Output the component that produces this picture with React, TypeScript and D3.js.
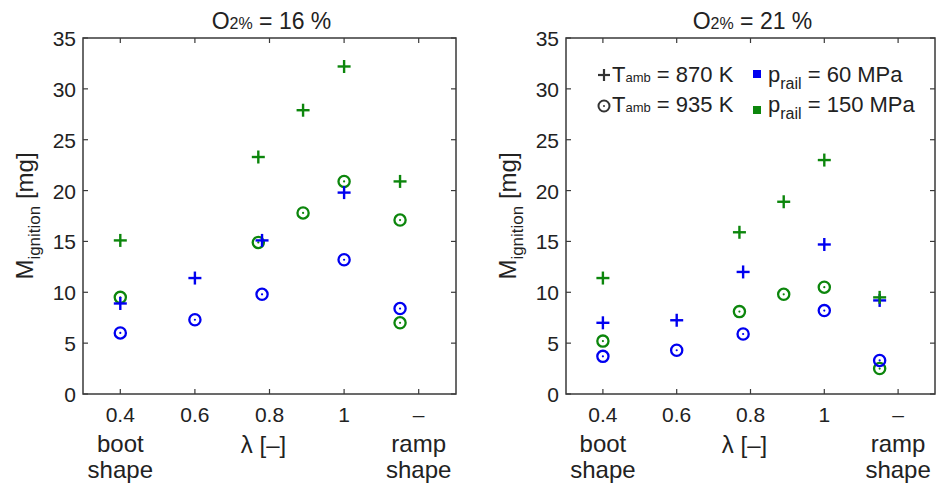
import React from "react";
import * as d3 from "d3";

// ---- Data ----
const xTicks = [0.4, 0.6, 0.8, 1.0, 1.2];
const xTickLabels = ["0.4", "0.6", "0.8", "1", "–"];
const yTicks = [0, 5, 10, 15, 20, 25, 30, 35];
const panelTitles = ["16 %", "21 %"];

// O2 = 16 %
const a_p60_T870_x = [0.4, 0.6, 0.78, 1.0];
const a_p60_T870_y = [8.9, 11.4, 15.1, 19.8];
const a_p60_T935_x = [0.4, 0.6, 0.78, 1.0, 1.15];
const a_p60_T935_y = [6.0, 7.3, 9.8, 13.2, 8.4];
const a_p150_T870_x = [0.4, 0.77, 0.89, 1.0, 1.15];
const a_p150_T870_y = [15.1, 23.3, 27.9, 32.2, 20.9];
const a_p150_T935_x = [0.4, 0.77, 0.89, 1.0, 1.15, 1.15];
const a_p150_T935_y = [9.5, 14.9, 17.8, 20.9, 17.1, 7.0];

// O2 = 21 %
const b_p60_T870_x = [0.4, 0.6, 0.78, 1.0, 1.15];
const b_p60_T870_y = [7.0, 7.25, 12.0, 14.7, 9.2];
const b_p60_T935_x = [0.4, 0.6, 0.78, 1.0, 1.15];
const b_p60_T935_y = [3.7, 4.3, 5.9, 8.2, 3.3];
const b_p150_T870_x = [0.4, 0.77, 0.89, 1.0, 1.15];
const b_p150_T870_y = [11.4, 15.9, 18.9, 23.0, 9.5];
const b_p150_T935_x = [0.4, 0.77, 0.89, 1.0, 1.15];
const b_p150_T935_y = [5.2, 8.1, 9.8, 10.5, 2.5];

const BLUE = "#0000f0";
const GREEN = "#0c860c";
const AXIS = "#3a3a3a";
const FONT = "Liberation Sans, Arial, Helvetica, sans-serif";

type Series = { x: number[]; y: number[]; color: string; marker: "plus" | "circle" };

const panelA: Series[] = [
  { x: a_p150_T935_x, y: a_p150_T935_y, color: GREEN, marker: "circle" },
  { x: a_p60_T935_x, y: a_p60_T935_y, color: BLUE, marker: "circle" },
  { x: a_p60_T870_x, y: a_p60_T870_y, color: BLUE, marker: "plus" },
  { x: a_p150_T870_x, y: a_p150_T870_y, color: GREEN, marker: "plus" },
];
const panelB: Series[] = [
  { x: b_p150_T935_x, y: b_p150_T935_y, color: GREEN, marker: "circle" },
  { x: b_p60_T935_x, y: b_p60_T935_y, color: BLUE, marker: "circle" },
  { x: b_p60_T870_x, y: b_p60_T870_y, color: BLUE, marker: "plus" },
  { x: b_p150_T870_x, y: b_p150_T870_y, color: GREEN, marker: "plus" },
];

function Marker({ cx, cy, color, marker }: { cx: number; cy: number; color: string; marker: string }) {
  if (marker === "plus") {
    const h = 6.5;
    return (
      <g stroke={color} strokeWidth={2.4}>
        <line x1={cx - h} x2={cx + h} y1={cy} y2={cy} />
        <line x1={cx} x2={cx} y1={cy - h} y2={cy + h} />
      </g>
    );
  }
  return (
    <g>
      <circle cx={cx} cy={cy} r={5.6} fill="none" stroke={color} strokeWidth={2.3} />
      <circle cx={cx} cy={cy} r={1.1} fill={color} />
    </g>
  );
}

function Panel({ x0, x1, title, series, legend }: { x0: number; x1: number; title: string; series: Series[]; legend?: boolean }) {
  const top = 38;
  const bottom = 394;
  const xs = d3.scaleLinear().domain([0.3, 1.3]).range([x0, x1]);
  const ys = d3.scaleLinear().domain([0, 35]).range([bottom, top]);
  const cx = (x0 + x1) / 2;
  const tl = 5;
  return (
    <g fontFamily={FONT} fill="#222">
      {/* title */}
      <text x={cx + 2} y={29} textAnchor="middle" fontSize={23}>
        O<tspan fontSize={16}>2%</tspan> = {title}
      </text>
      {/* box */}
      <rect x={x0} y={top} width={x1 - x0} height={bottom - top} fill="none" stroke={AXIS} strokeWidth={1.5} />
      {/* x ticks */}
      {xTicks.map((t, i) => (
        <g key={"xt" + i}>
          <line x1={xs(t)} x2={xs(t)} y1={bottom} y2={bottom - tl} stroke={AXIS} strokeWidth={1.2} />
          <line x1={xs(t)} x2={xs(t)} y1={top} y2={top + tl} stroke={AXIS} strokeWidth={1.2} />
          <text x={xs(t)} y={422} textAnchor="middle" fontSize={21}>{xTickLabels[i]}</text>
        </g>
      ))}
      {/* y ticks */}
      {yTicks.map((t, i) => (
        <g key={"yt" + i}>
          <line x1={x0} x2={x0 + tl} y1={ys(t)} y2={ys(t)} stroke={AXIS} strokeWidth={1.2} />
          <line x1={x1} x2={x1 - tl} y1={ys(t)} y2={ys(t)} stroke={AXIS} strokeWidth={1.2} />
          <text x={x0 - 7} y={ys(t) + 8} textAnchor="end" fontSize={21}>{t}</text>
        </g>
      ))}
      {/* secondary x labels */}
      <text x={xs(0.4)} y={452} textAnchor="middle" fontSize={24}>boot</text>
      <text x={xs(0.4)} y={478} textAnchor="middle" fontSize={24}>shape</text>
      <text x={xs(1.2)} y={452} textAnchor="middle" fontSize={24}>ramp</text>
      <text x={xs(1.2)} y={478} textAnchor="middle" fontSize={24}>shape</text>
      <text x={cx - 6} y={453} textAnchor="middle" fontSize={24}>λ [–]</text>
      {/* y label */}
      <text transform={`translate(${x0 - 50},${(top + bottom) / 2}) rotate(-90)`} textAnchor="middle" fontSize={24}>
        M<tspan fontSize={17} dy={7}>ignition</tspan><tspan dy={-7}> [mg]</tspan>
      </text>
      {/* data */}
      {series.map((s, si) => (
        <g key={"s" + si}>
          {s.x.map((xv, i) => (
            <Marker key={i} cx={xs(xv)} cy={ys(s.y[i])} color={s.color} marker={s.marker} />
          ))}
        </g>
      ))}
      {legend && (
        <g fontSize={22}>
          <g stroke="#333" strokeWidth={2.2}>
            <line x1={598} x2={610} y1={75} y2={75} />
            <line x1={604} x2={604} y1={69} y2={81} />
          </g>
          <text x={612} y={82}>T<tspan fontSize={13}>amb</tspan> = 870 K</text>
          <circle cx={604} cy={106} r={5.5} fill="none" stroke="#333" strokeWidth={2} />
          <circle cx={604} cy={106} r={1} fill="#333" />
          <text x={612} y={112}>T<tspan fontSize={13}>amb</tspan> = 935 K</text>
          <rect x={753} y={70} width={8} height={8} fill={BLUE} />
          <text x={768} y={82}>p<tspan fontSize={16} dy={7}>rail</tspan><tspan dy={-7}> = 60 MPa</tspan></text>
          <rect x={753} y={106} width={8} height={8} fill={GREEN} />
          <text x={768} y={112}>p<tspan fontSize={16} dy={7}>rail</tspan><tspan dy={-7}> = 150 MPa</tspan></text>
        </g>
      )}
    </g>
  );
}

export default function App() {
  return (
    <svg width={937} height={487} style={{ position: "absolute", left: 0, top: 0, background: "#fff" }}>
      <rect x={0} y={0} width={937} height={487} fill="#fff" />
      <Panel x0={83} x1={456} title={panelTitles[0]} series={panelA} />
      <Panel x0={566} x1={935} title={panelTitles[1]} series={panelB} legend />
    </svg>
  );
}
